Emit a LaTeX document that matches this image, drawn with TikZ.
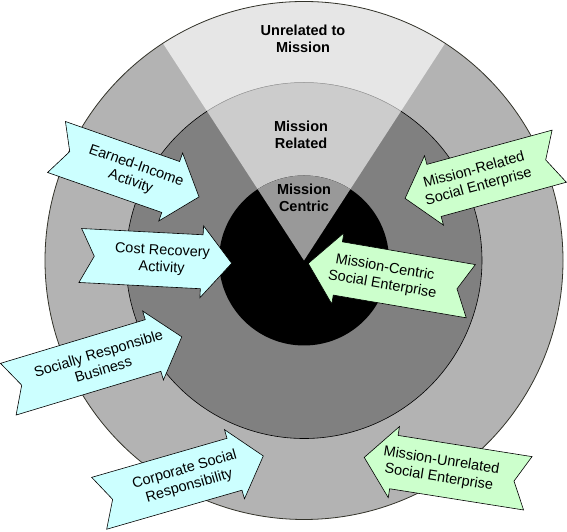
\documentclass[tikz,border=0pt]{standalone}
\usepackage{fontspec}
\setmainfont{Liberation Sans}
\usetikzlibrary{calc}
\definecolor{ringout}{HTML}{B3B3B3}
\definecolor{wedgeout}{HTML}{E6E6E6}
\definecolor{ringmid}{HTML}{808080}
\definecolor{wedgemid}{HTML}{CCCCCC}
\definecolor{wedgein}{HTML}{999999}
\definecolor{arrcyan}{HTML}{CCFFFF}
\definecolor{arrgreen}{HTML}{CCFFCC}
\definecolor{rimline}{HTML}{33332A}
\tikzset{
  arrowshape/.style={draw=black,line width=0.6pt,line join=miter},
  arrowtext/.style={align=center,inner sep=0pt,font=\fontsize{14.5}{17}\selectfont},
  zonelabel/.style={align=center,inner sep=0pt,font=\bfseries\fontsize{14.5}{17}\selectfont},
}
\newcommand\ncarrow[7]{%
  \begin{scope}[shift={(#2)},rotate=#3]
    \draw[arrowshape,fill=#5] (0,27) -- ({#4-30},27) -- ({#4-30},36) -- (#4,0)
      -- ({#4-30},-36) -- ({#4-30},-27) -- (0,-27) -- (14,0) -- cycle;
    \node[arrowtext,rotate=#6] (#1) at ({#4/2+6},0) {#7};
  \end{scope}}
\begin{document}
\begin{tikzpicture}[x=1pt,y=1pt]
\useasboundingbox (0,0) rectangle (567,532);
\coordinate (c) at (304,271.5);
\def\Ro{259}\def\Rm{178}\def\Ri{85}
% outer
\fill[ringout] (c) circle[radius=\Ro];
\fill[wedgeout] (c) -- ++(57:\Ro) arc[start angle=57,end angle=123,radius=\Ro] -- cycle;
% middle
\fill[ringmid] (c) circle[radius=\Rm];
\fill[wedgemid] (c) -- ++(57:\Rm) arc[start angle=57,end angle=123,radius=\Rm] -- cycle;
% inner
\fill[black] (c) circle[radius=\Ri];
\fill[wedgein] (c) -- ++(57:\Ri) arc[start angle=57,end angle=123,radius=\Ri] -- cycle;
% outlines
\draw[rimline,line width=0.8pt] (c) circle[radius=\Ro];
\draw[black,line width=0.6pt] ($(c)+(123:\Rm)$) arc[start angle=123,end angle=417,radius=\Rm];
\draw[wedgein,line width=0.5pt] ($(c)+(57:\Rm)$) arc[start angle=57,end angle=123,radius=\Rm];
% zone labels
\node[zonelabel] (unrel) at (303,493) {Unrelated to\\Mission};
\node[zonelabel] (rel) at (301,397) {Mission\\Related};
\node[zonelabel] (cent) at (304,334) {Mission\\Centric};
% arrows
\ncarrow{earned}{56.5,385}{-19.3}{151}{arrcyan}{-19.3}{Earned-Income\\Activity}
\ncarrow{cost}{80.3,276.5}{-2.95}{151.6}{arrcyan}{-2.95}{Cost Recovery\\Activity}
\ncarrow{srb}{8.3,142.8}{16.8}{181.2}{arrcyan}{16.8}{Socially Responsible\\Business}
\ncarrow{csr}{99.2,28.7}{16.1}{170.8}{arrcyan}{16.1}{Corporate Social\\Responsibility}
\ncarrow{mrse}{559.2,375.8}{195.3}{159.8}{arrgreen}{15.3}{Mission-Related\\Social Enterprise}
\ncarrow{mcse}{470.8,240.8}{170.3}{164.9}{arrgreen}{-9.7}{Mission-Centric\\Social Enterprise}
\ncarrow{muse}{527.8,48.7}{171}{165.6}{arrgreen}{-9}{Mission-Unrelated\\Social Enterprise}
\end{tikzpicture}
\end{document}
